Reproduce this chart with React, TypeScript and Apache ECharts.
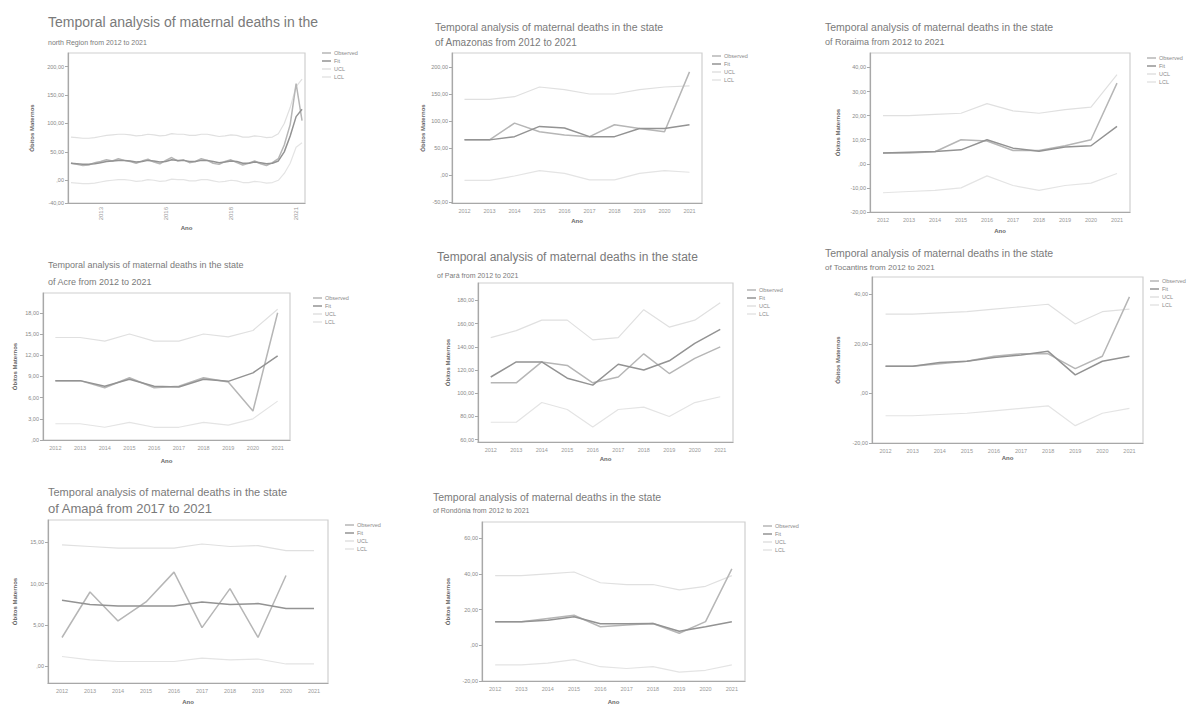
import React, { useEffect, useRef } from "react";
import * as echarts from "echarts";

// ---------- data ----------
const years = ["2012", "2013", "2014", "2015", "2016", "2017", "2018", "2019", "2020", "2021"];
const quarterLabels = ["T1", "T2", "T3", "T4"];

// North region (quarterly)
const obsNorth = [30, 28, 26, 27, 31, 33, 36, 34, 38, 35, 33, 30, 34, 37, 32, 29, 35, 40, 34, 36, 31, 33, 38, 35, 30, 28, 33, 36, 31, 27, 30, 34, 29, 26, 31, 38, 62, 98, 170, 105];
const fitNorth = [30, 29, 28, 28, 29, 31, 33, 34, 35, 35, 34, 32, 33, 35, 34, 32, 33, 36, 35, 35, 33, 33, 35, 35, 33, 31, 32, 34, 33, 30, 30, 32, 31, 29, 30, 34, 50, 78, 112, 125];
const uclNorth = [76, 75, 74, 74, 75, 77, 79, 80, 81, 81, 80, 78, 79, 81, 80, 78, 79, 82, 81, 81, 79, 79, 81, 81, 79, 77, 78, 80, 79, 76, 76, 78, 77, 75, 76, 82, 100, 128, 165, 178];
const lclNorth = [-4, -5, -6, -6, -5, -3, -1, 0, 1, 1, 0, -2, -1, 1, 0, -2, -1, 2, 1, 1, -1, -1, 1, 1, -1, -3, -2, 0, -1, -4, -4, -2, -3, -5, -4, 0, 12, 30, 58, 66];

const obsAmazonas = [65, 65, 96, 80, 74, 71, 93, 86, 80, 191];
const fitAmazonas = [65, 65, 71, 90, 87, 71, 71, 86, 86, 93];
const uclAmazonas = [140, 140, 145, 163, 158, 150, 150, 158, 163, 165];
const lclAmazonas = [-10, -10, -2, 8, 3, -9, -9, 3, 8, 5];

const obsRoraima = [4.5, 4.5, 5, 10, 9.5, 5.5, 5.5, 7.5, 10, 33.5];
const fitRoraima = [4.5, 4.8, 5.1, 5.8, 10, 6.5, 5.2, 7, 7.5, 15.5];
const uclRoraima = [20, 20, 20.5, 21, 25, 22, 21, 22.5, 23.5, 37];
const lclRoraima = [-12, -11.5, -11, -10, -5, -9, -11, -9, -8, -4];

const obsAcre = [8.4, 8.4, 7.4, 8.8, 7.4, 7.6, 8.8, 8.2, 4.1, 18];
const fitAcre = [8.4, 8.4, 7.6, 8.6, 7.6, 7.5, 8.6, 8.3, 9.5, 11.9];
const uclAcre = [14.5, 14.5, 14, 15, 14, 14, 15, 14.6, 15.5, 18.5];
const lclAcre = [2.3, 2.3, 1.8, 2.5, 1.8, 1.8, 2.5, 2.1, 3, 5.5];

const obsPara = [109, 109, 127, 124, 109, 114, 134, 117, 130, 140];
const fitPara = [114, 127, 127, 113, 107, 125, 120, 128, 143, 155];
const uclPara = [148, 154, 163, 163, 146, 148, 172, 157, 163, 178];
const lclPara = [75, 75, 92, 86, 71, 86, 88, 80, 92, 97];

const obsTocantins = [11, 11, 12, 13, 15, 16, 16, 10, 15, 39];
const fitTocantins = [11, 11, 12.5, 13, 14.5, 15.5, 17, 7.5, 13, 15];
const uclTocantins = [32, 32, 32.5, 33, 34, 35, 36, 28, 33, 34];
const lclTocantins = [-9, -9, -8.5, -8, -7, -6, -5, -13, -8, -6];

const obsAmapa = [3.5, 9.0, 5.5, 7.8, 11.4, 4.7, 9.4, 3.5, 11.0, null];
const fitAmapa = [8.0, 7.5, 7.3, 7.3, 7.3, 7.8, 7.5, 7.6, 7.0, 7.0];
const uclAmapa = [14.7, 14.5, 14.3, 14.3, 14.3, 14.8, 14.5, 14.6, 14.0, 14.0];
const lclAmapa = [1.2, 0.8, 0.6, 0.6, 0.6, 1.0, 0.8, 0.9, 0.3, 0.3];

const obsRondonia = [13.2, 13.2, 15, 16.8, 10.4, 11.3, 12.2, 6.7, 13.2, 42.8];
const fitRondonia = [13.2, 13.2, 14, 16, 12, 12, 12.2, 7.8, 10.4, 13.2];
const uclRondonia = [39, 39, 40, 41, 35, 34, 34, 31, 33, 39];
const lclRondonia = [-11, -11, -10, -8, -12, -13, -12, -15, -14, -11];

const quarters: string[] = [];
years.forEach((y) => quarterLabels.forEach((q) => quarters.push(q + " " + y)));

const seriesNames = ["Observed", "Fit", "UCL", "LCL"];

type Panel = {
  t1: string; t2: string;
  t1s: number; t2s: number; tx: number; t1y: number; t2y: number;
  grid: number[]; lg: number[];
  ymin: number; ymax: number; yticks: number[];
  yGap: number; xGap: number;
  cats: string[]; obs: (number | null)[]; fit: number[]; ucl: number[]; lcl: number[];
  quarterly?: boolean;
};

const panels: Panel[] = [
  { t1: "Temporal analysis of maternal deaths in the", t2: "north Region from 2012 to 2021", t1s: 14, t2s: 7, tx: 48, t1y: 22, t2y: 42,
    grid: [68, 53, 305, 203], lg: [322, 50], ymin: -40, ymax: 224, yticks: [-40, 0, 50, 100, 150, 200], yGap: 33, xGap: 22,
    cats: quarters, obs: obsNorth, fit: fitNorth, ucl: uclNorth, lcl: lclNorth, quarterly: true },
  { t1: "Temporal analysis of maternal deaths in the state", t2: "of Amazonas from 2012 to 2021", t1s: 10.5, t2s: 10, tx: 435, t1y: 27, t2y: 42,
    grid: [452, 53, 702, 203], lg: [712, 53], ymin: -52, ymax: 226, yticks: [-50, 0, 50, 100, 150, 200], yGap: 26, xGap: 15,
    cats: years, obs: obsAmazonas, fit: fitAmazonas, ucl: uclAmazonas, lcl: lclAmazonas },
  { t1: "Temporal analysis of maternal deaths in the state", t2: "of Roraima from 2012 to 2021", t1s: 10.5, t2s: 9, tx: 825, t1y: 27, t2y: 42,
    grid: [870, 53, 1130, 212], lg: [1147, 55], ymin: -20, ymax: 46, yticks: [-20, -10, 0, 10, 20, 30, 40], yGap: 29, xGap: 16,
    cats: years, obs: obsRoraima, fit: fitRoraima, ucl: uclRoraima, lcl: lclRoraima },
  { t1: "Temporal analysis of maternal deaths in the state", t2: "of Acre from 2012 to 2021", t1s: 9, t2s: 9, tx: 48, t1y: 265, t2y: 282,
    grid: [43, 293, 290, 440], lg: [313, 295], ymin: 0, ymax: 20.8, yticks: [0, 3, 6, 9, 12, 15, 18], yGap: 25, xGap: 18,
    cats: years, obs: obsAcre, fit: fitAcre, ucl: uclAcre, lcl: lclAcre },
  { t1: "Temporal analysis of maternal deaths in the state", t2: "of Pará from 2012 to 2021", t1s: 12, t2s: 7, tx: 437, t1y: 257, t2y: 275,
    grid: [478, 283, 733, 442], lg: [747, 287], ymin: 58, ymax: 195, yticks: [60, 80, 100, 120, 140, 160, 180], yGap: 27, xGap: 14,
    cats: years, obs: obsPara, fit: fitPara, ucl: uclPara, lcl: lclPara },
  { t1: "Temporal analysis of maternal deaths in the state", t2: "of Tocantins from 2012 to 2021", t1s: 10.5, t2s: 8, tx: 825, t1y: 253, t2y: 267,
    grid: [872, 277, 1143, 443], lg: [1150, 278], ymin: -20, ymax: 47, yticks: [-20, 0, 20, 40], yGap: 31, xGap: 12,
    cats: years, obs: obsTocantins, fit: fitTocantins, ucl: uclTocantins, lcl: lclTocantins },
  { t1: "Temporal analysis of maternal deaths in the state", t2: "of Amapá from 2017 to 2021", t1s: 11, t2s: 13, tx: 48, t1y: 492, t2y: 508,
    grid: [48, 520, 328, 687], lg: [345, 522], ymin: -2, ymax: 17.7, yticks: [0, 5, 10, 15], yGap: 30, xGap: 16,
    cats: years, obs: obsAmapa, fit: fitAmapa, ucl: uclAmapa, lcl: lclAmapa },
  { t1: "Temporal analysis of maternal deaths in the state", t2: "of Rondônia from 2012 to 2021", t1s: 10.5, t2s: 7, tx: 433, t1y: 497, t2y: 510,
    grid: [482, 522, 745, 682], lg: [763, 523], ymin: -20, ymax: 69, yticks: [-20, 0, 20, 40, 60], yGap: 31, xGap: 18,
    cats: years, obs: obsRondonia, fit: fitRondonia, ucl: uclRondonia, lcl: lclRondonia },
];

const fmt = (v: number) => (v === 0 ? ",00" : v.toFixed(2).replace(".", ","));

const colors: Record<string, string> = {
  Observed: "#b6b6b6",
  Fit: "#939393",
  UCL: "#e0e0e0",
  LCL: "#e4e4e4",
};

export default function App() {
  const ref = useRef<HTMLDivElement>(null);
  useEffect(() => {
    if (!ref.current) return;
    const chart = echarts.init(ref.current, undefined, { renderer: "svg" });
    const font = "Liberation Sans, Arial, sans-serif";
    const graphic: any[] = [];
    panels.forEach((p) => {
      graphic.push({ type: "text", x: p.tx, y: p.t1y, style: { text: p.t1, fontSize: p.t1s, fill: "#7a7a7a", fontFamily: font, verticalAlign: "middle" } });
      graphic.push({ type: "text", x: p.tx, y: p.t2y, style: { text: p.t2, fontSize: p.t2s, fill: "#7a7a7a", fontFamily: font, verticalAlign: "middle" } });
    });
    const series: any[] = [];
    panels.forEach((p, i) => {
      const data: Record<string, any[]> = { Observed: p.obs, Fit: p.fit, UCL: p.ucl, LCL: p.lcl };
      ["UCL", "LCL", "Observed", "Fit"].forEach((n) => {
        series.push({
          type: "line", name: n, xAxisIndex: i, yAxisIndex: i, data: data[n], symbol: "none",
          lineStyle: { width: n === "Observed" || n === "Fit" ? 1.5 : 1.2, color: colors[n] },
          itemStyle: { color: colors[n] },
        });
      });
    });
    const option: any = {
      animation: false,
      backgroundColor: "#ffffff",
      textStyle: { fontFamily: font },
      graphic,
      grid: panels.map((p) => ({
        left: p.grid[0], top: p.grid[1], width: p.grid[2] - p.grid[0], height: p.grid[3] - p.grid[1],
        show: true, borderColor: "#cfcfcf", borderWidth: 1.2, backgroundColor: "transparent",
      })),
      legend: panels.map((p) => ({
        left: p.lg[0], top: p.lg[1], orient: "vertical", itemWidth: 9, itemHeight: 1.5, itemGap: 2, padding: 0,
        icon: "rect",
        textStyle: { fontSize: 5.5, color: "#8a8a8a", padding: [0, 0, 0, -2] }, data: seriesNames,
      })),
      xAxis: panels.map((p, i) => ({
        type: "category", gridIndex: i, data: p.cats, boundaryGap: true,
        name: "Ano", nameLocation: "middle", nameGap: p.xGap,
        nameTextStyle: { fontSize: 6, fontWeight: "bold", color: "#666" },
        axisLine: { onZero: false, lineStyle: { color: "#a8a8a8", width: 1.2 } },
        axisTick: p.quarterly
          ? { length: 3, interval: 0, lineStyle: { color: "#a8a8a8" } }
          : { length: 3, lineStyle: { color: "#a8a8a8" } },
        axisLabel: p.quarterly
          ? { fontSize: 6, color: "#999", rotate: 90, margin: 4, interval: (idx: number) => idx >= 5 && (idx - 5) % 11 === 0, formatter: (v: string) => v.split(" ")[1] }
          : { fontSize: 5.5, color: "#999", margin: 5, interval: 0 },
        splitLine: { show: false },
      })),
      yAxis: panels.map((p, i) => ({
        type: "value", gridIndex: i, min: p.ymin, max: p.ymax,
        name: "Óbitos Maternos", nameLocation: "middle", nameGap: p.yGap, nameRotate: 90,
        nameTextStyle: { fontSize: 6, fontWeight: "bold", color: "#666" },
        axisLine: { show: true, onZero: false, lineStyle: { color: "#a8a8a8", width: 1.2 } },
        axisTick: { show: true, length: 3, customValues: p.yticks, lineStyle: { color: "#a8a8a8" } },
        axisLabel: { fontSize: 5.5, color: "#888", margin: 4, customValues: p.yticks, formatter: (v: number) => fmt(v) },
        splitLine: { show: false },
      })),
      series,
    };
    chart.setOption(option);
    return () => chart.dispose();
  }, []);
  return <div ref={ref} style={{ position: "fixed", left: 0, top: 0, width: 1190, height: 706, background: "#fff" }} />;
}
